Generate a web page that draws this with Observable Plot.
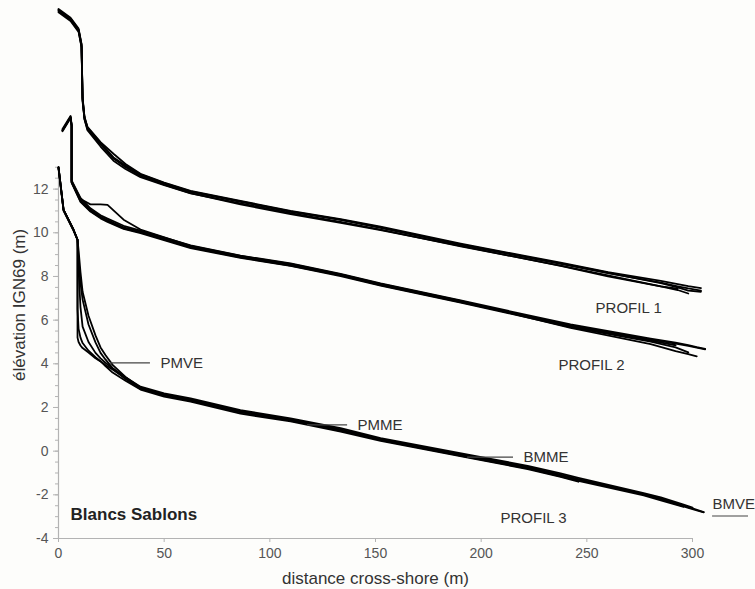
<!DOCTYPE html>
<html>
<head>
<meta charset="utf-8">
<script src="https://cdn.jsdelivr.net/npm/d3@7"></script>
<script src="https://cdn.jsdelivr.net/npm/@observablehq/plot@0.6"></script>
<style>
  html, body { margin: 0; padding: 0; background: #fdfdfb; }
  #chart svg { font-family: "Liberation Sans", Arial, sans-serif; }
</style>
</head>
<body>
<div id="chart"></div>
<script>
// ---------- Tick values ----------
const xTicks = [0, 50, 100, 150, 200, 250, 300];
const yTicks = [-4, -2, 0, 2, 4, 6, 8, 10, 12];
const yMinorTicks = [-4, -3.5, -3, -2.5, -2, -1.5, -1, -0.5, 0, 0.5, 1, 1.5, 2, 2.5, 3, 3.5, 4, 4.5, 5, 5.5, 6, 6.5, 7, 7.5, 8, 8.5, 9, 9.5, 10, 10.5, 11, 11.5, 12, 12.5, 13];

// ---------- PROFIL 1 (distance, and one elevation array per survey) ----------
const dist1 = [0, 5.7, 9.5, 10.9, 11.4, 12.3, 13.7, 19.9, 26, 31.7, 38.8, 50, 62.5, 86.1, 109.8, 133.5, 152.4, 190.3, 237.6, 260, 285, 293, 298, 304];
const elev1a = [20.2, 19.8, 19.3, 18.6, 16.1, 15.25, 14.8, 14.1, 13.4, 13.05, 12.65, 12.25, 11.87, 11.42, 10.96, 10.59, 10.23, 9.45, 8.58, 8.15, 7.72, 7.55, 7.45, 7.35];
const elev1b = [20.15, 19.75, 19.25, 18.5, 16.0, 15.2, 14.7, 13.95, 13.3, 12.92, 12.55, 12.18, 11.8, 11.35, 10.9, 10.5, 10.15, 9.38, 8.5, 8.05, 7.55, 7.38, 7.22, null];
const elev1c = [20.2, 19.8, 19.3, 18.6, 16.2, 15.3, 14.85, 14.15, 13.62, 13.15, 12.7, 12.3, 11.92, 11.46, 11.0, 10.62, 10.28, 9.5, 8.63, 8.2, 7.8, 7.65, 7.56, 7.47];
const elev1d = [20.1, 19.7, 19.2, 18.5, 16.1, 15.2, 14.75, 14.05, 13.42, 13.0, 12.6, 12.2, 11.82, 11.3, 10.85, 10.46, 10.12, 9.4, 8.48, 8.0, 7.55, 7.44, null, null];
const elev1e = [20.25, 19.85, 19.35, 18.65, 16.15, 15.3, 14.82, 14.12, 13.45, 13.08, 12.68, 12.28, 11.9, 11.44, 10.98, 10.6, 10.25, 9.47, 8.6, 8.17, 7.7, 7.5, 7.35, 7.3];

// ---------- PROFIL 2 ----------
const dist2 = [1.9, 5.7, 6.2, 6.2, 10.4, 15.1, 19.9, 23.2, 30.8, 38.8, 62.5, 86.1, 109.8, 133.5, 152.4, 190.3, 242.3, 280.2, 292, 298, 302, 306];
const elev2a = [14.7, 15.3, 14.93, 12.33, 11.5, 11.05, 10.73, 10.58, 10.25, 10.05, 9.36, 8.9, 8.54, 8.08, 7.63, 6.85, 5.75, 5.11, 4.92, 4.82, 4.74, 4.66];
const elev2b = [14.65, 15.25, 14.9, 12.3, 11.42, 10.97, 10.66, 10.5, 10.18, 9.98, 9.3, 8.85, 8.48, 8.02, 7.58, 6.8, 5.68, 5.02, 4.75, 4.52, null, null];
const elev2c = [14.7, 15.3, 14.93, 12.36, 11.55, 11.3, 11.3, 11.28, 10.6, 10.15, 9.4, 8.94, 8.58, 8.1, 7.66, 6.88, 5.65, 4.9, 4.58, 4.44, 4.34, null];
const elev2d = [14.75, 15.35, 14.95, 12.4, 11.6, 11.12, 10.8, 10.65, 10.32, 10.1, 9.42, 8.95, 8.6, 8.12, 7.68, 6.9, 5.8, 5.15, 4.97, 4.86, 4.76, 4.68];
const elev2e = [14.68, 15.28, 14.9, 12.3, 11.45, 11.0, 10.7, 10.54, 10.2, 10.02, 9.33, 8.88, 8.5, 8.05, 7.6, 6.83, 5.72, 5.06, 4.85, null, null, null];

// ---------- PROFIL 3 ----------
const dist3 = [0, 2.4, 7.1, 9.0, 9.0, 9.5, 10.4, 11.4, 14.2, 17.5, 19.9, 22.2, 25.6, 31.7, 38.8, 50, 62.5, 86.1, 109.8, 133.5, 152.4, 195, 222, 237.6, 246, 276.9, 285, 295.8, 300, 305.3];
const elev3a = [13.0, 11.05, 10.14, 9.68, 5.2, 5.0, 4.84, 4.72, 4.52, 4.25, 4.11, 3.95, 3.74, 3.33, 2.92, 2.6, 2.37, 1.83, 1.46, 1.0, 0.55, -0.23, -0.72, -1.08, -1.28, -1.96, -2.17, -2.51, -2.62, -2.79];
const elev3b = [12.95, 11.0, 10.1, 9.68, 9.68, 8.77, 7.7, 6.94, 5.8, 4.98, 4.5, 4.2, 3.8, 3.3, 2.85, 2.55, 2.3, 1.78, 1.4, 0.95, 0.5, -0.3, -0.79, -1.15, -1.36, -2.02, -2.25, -2.55, null, null];
const elev3c = [13.0, 11.05, 10.14, 9.68, 9.68, 8.3, 6.6, 5.7, 5.0, 4.5, 4.25, 4.05, 3.8, 3.38, 2.95, 2.65, 2.42, 1.88, 1.5, 1.05, 0.6, -0.18, -0.67, -1.02, -1.22, -1.92, -2.12, -2.45, -2.58, null];
const elev3d = [13.0, 11.05, 10.14, 9.68, 9.68, 9.2, 8.2, 7.3, 6.2, 5.3, 4.75, 4.4, 3.95, 3.4, 2.9, 2.58, 2.35, 1.8, 1.43, 0.98, 0.52, -0.26, -0.75, -1.12, -1.32, -1.98, -2.2, -2.53, -2.66, -2.8];
const elev3e = [13.0, 11.05, 10.14, 9.68, 6.5, 5.6, 5.2, 4.95, 4.6, 4.3, 4.12, 3.9, 3.6, 3.22, 2.82, 2.5, 2.27, 1.72, 1.36, 0.9, 0.47, -0.32, -0.82, -1.18, -1.4, null, null, null, null, null];

// ---------- Annotations ----------
const tideNames = ["PMVE", "PMME", "BMME", "BMVE"];
const tideLevel = [4.04, 1.2, -0.27, -2.97];
const tideLineStart = [24.6, 117.8, 193.6, 309.5];
const tideLineEnd = [43.5, 136.8, 215.3, 326.5];
const tideTextX = [48.3, 141.5, 220, 309.5];
const tideTextY = [4.04, 1.2, -0.27, -2.42];

const profileNames = ["PROFIL 1", "PROFIL 2", "PROFIL 3"];
const profileLabelX = [269.8, 252.2, 224.8];
const profileLabelY = [6.55, 3.94, -3.06];

const siteName = ["Blancs Sablons"];
const siteX = [5.7];
const siteY = [-2.92];

const xTitle = "distance cross-shore (m)";
const yTitle = "élévation IGN69 (m)";

// ---------- Build tables ----------
const profileSets = [
  ["P1", dist1, [elev1a, elev1b, elev1c, elev1d, elev1e]],
  ["P2", dist2, [elev2a, elev2b, elev2c, elev2d, elev2e]],
  ["P3", dist3, [elev3a, elev3b, elev3c, elev3d, elev3e]]
];
const rows = [];
for (const [name, dist, surveys] of profileSets) {
  surveys.forEach((elev, i) => {
    dist.forEach((x, j) => rows.push({survey: name + "-" + i, x, y: elev[j]}));
  });
}
const tides = tideNames.map((n, i) => ({name: n, y: tideLevel[i], x1: tideLineStart[i], x2: tideLineEnd[i], tx: tideTextX[i], ty: tideTextY[i]}));
const profLabels = profileNames.map((n, i) => ({name: n, x: profileLabelX[i], y: profileLabelY[i]}));
const site = siteName.map((n, i) => ({name: n, x: siteX[i], y: siteY[i]}));

const axisGrey = "#b3b3b3";
const plainNum = d => String(d);

const chart = Plot.plot({
  width: 755,
  height: 589,
  marginLeft: 58,
  marginRight: 63,
  marginTop: 3,
  marginBottom: 51,
  style: {background: "#fdfdfb", fontFamily: "'Liberation Sans', Arial, sans-serif", overflow: "visible"},
  x: {domain: [0, 300]},
  y: {domain: [-4, 20.5]},
  marks: [
    Plot.ruleX([0], {y1: -4, y2: 13, stroke: axisGrey, strokeWidth: 1.2}),
    Plot.ruleY([-4], {x1: 0, x2: 300, stroke: axisGrey, strokeWidth: 1.2}),
    Plot.axisY({ticks: yMinorTicks, tickSize: 3, tickFormat: () => "", label: null, stroke: axisGrey}),
    Plot.axisY({ticks: yTicks, tickSize: 5, tickPadding: 5, fontSize: 14, tickFormat: plainNum, label: null, stroke: axisGrey, fill: "#555"}),
    Plot.axisX({ticks: xTicks, tickSize: 4, tickPadding: 6, fontSize: 14, tickFormat: plainNum, label: null, stroke: axisGrey, fill: "#555"}),
    Plot.text([xTitle], {frameAnchor: "bottom", dy: 40, fontSize: 17, fill: "#333", lineAnchor: "middle"}),
    Plot.text([yTitle], {frameAnchor: "left", dx: -39, dy: 110, rotate: -90, fontSize: 17, fill: "#333", lineAnchor: "middle"}),
    Plot.line(rows, {x: "x", y: "y", z: "survey", stroke: "#000", strokeWidth: 1.8, strokeLinejoin: "round", strokeLinecap: "round"}),
    Plot.ruleY(tides, {y: "y", x1: "x1", x2: "x2", stroke: "#444", strokeWidth: 1.2}),
    Plot.text(tides, {x: "tx", y: "ty", text: "name", textAnchor: "start", fontSize: 15, fill: "#333"}),
    Plot.text(profLabels, {x: "x", y: "y", text: "name", fontSize: 15, fill: "#333"}),
    Plot.text(site, {x: "x", y: "y", text: "name", textAnchor: "start", fontSize: 17, fontWeight: "bold", fill: "#222"})
  ]
});
document.getElementById("chart").appendChild(chart);
</script>
</body>
</html>
